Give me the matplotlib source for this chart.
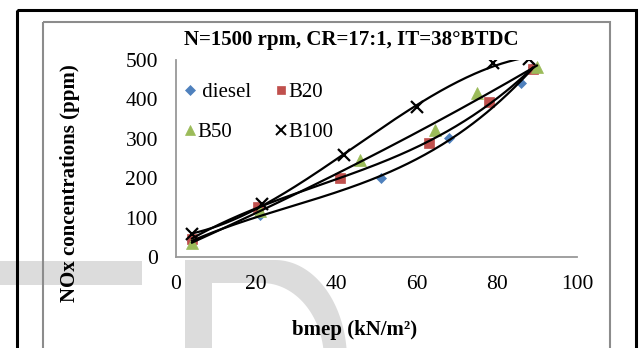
import numpy as np
import matplotlib
matplotlib.use("Agg")
import matplotlib.pyplot as plt
from matplotlib.lines import Line2D
from matplotlib.patches import Rectangle, Polygon

plt.rcParams['font.family'] = ['Liberation Serif', 'DejaVu Serif']

# data (bmep in kN/m2, NOx in ppm)
diesel_x = [4, 21, 51, 68, 86, 89]
diesel_y = [40, 107, 200, 302, 442, 482]
b20_x = [4, 20.5, 41, 63, 78, 89]
b20_y = [46, 128, 200, 290, 393, 478]
b50_x = [4, 21, 46, 64.5, 75, 90]
b50_y = [36, 117, 247, 322, 416, 482]
b100_x = [4, 21.5, 42, 60, 79, 88]
b100_y = [58, 135, 259, 381, 493, 502]

labels = [' diesel', 'B20', 'B50', 'B100']
colors = ['#4F81BD', '#C0504D', '#9BBB59', 'black']
markers = ['D', 's', '^', 'x']
msizes = [5.5, 7, 8, 8]

xticks = [0, 20, 40, 60, 80, 100]
yticks = [0, 100, 200, 300, 400, 500]

W, H = 641, 348

fig = plt.figure(figsize=(W / 100, H / 100), dpi=100)
fig.patch.set_facecolor('white')

# background layer in pixel coords: watermark + frames
bg = fig.add_axes([0, 0, 1, 1], zorder=0)
bg.set_xlim(0, W)
bg.set_ylim(H, 0)
bg.axis('off')
wm = '#dcdcdc'
bg.add_patch(Rectangle((0, 261), 142, 24, color=wm, lw=0))
# the "D"
t1 = np.linspace(np.pi / 2, -0.2, 60)
outer = [(185, 360), (185, 260)] + [(275 + 72 * np.cos(a), 360 - 100 * np.sin(a)) for a in t1]
bg.add_patch(Polygon(outer, closed=True, color=wm, lw=0))
inner = [(212, 360), (212, 283)] + [(262 + 62 * np.cos(a), 360 - 77 * np.sin(a)) for a in t1]
bg.add_patch(Polygon(inner, closed=True, color='white', lw=0))
bg.add_patch(Rectangle((17, 10), 619, 360, fill=False, ec='black', lw=2.2))
bg.add_patch(Rectangle((43, 22), 567, 360, fill=False, ec='#8c8c8c', lw=1.5))

ax = fig.add_axes([176 / W, (H - 257) / H, (577 - 176) / W, (257 - 60) / H], zorder=1)
ax.set_facecolor('none')

series = [(diesel_x, diesel_y), (b20_x, b20_y), (b50_x, b50_y), (b100_x, b100_y)]
for (xs, ys), c, m, s in zip(series, colors, markers, msizes):
    ax.plot(xs, ys, linestyle='none', marker=m, color=c, markersize=s,
            markeredgewidth=1.6 if m == 'x' else 0.5, zorder=2)
# polynomial trendlines (3rd order) in black
for xs, ys in series:
    coef = np.polyfit(xs, ys, 3)
    fx = np.linspace(min(xs), max(xs), 200)
    ax.plot(fx, np.polyval(coef, fx), color='black', lw=1.6, zorder=3)

ax.set_xlim(0, 100)
ax.set_ylim(0, 500)
ax.set_xticks(xticks)
ax.set_yticks(yticks)
ax.tick_params(length=0, labelsize=15.5, pad=13)
for side in ['top', 'right']:
    ax.spines[side].set_visible(False)
for side in ['left', 'bottom']:
    ax.spines[side].set_color('#999999')
    ax.spines[side].set_linewidth(1.3)

handles = [Line2D([], [], linestyle='none', marker=m, color=c, markersize=s * 0.9,
                  markeredgewidth=1.4 if m == 'x' else 0.5)
           for c, m, s in zip(colors, markers, msizes)]
order = [0, 2, 1, 3]  # legend fills by column; keep rows diesel/B20, B50/B100
ax.legend([handles[i] for i in order], [labels[i] for i in order], ncol=2,
          loc='upper left', bbox_to_anchor=(-0.017, 0.96),
          frameon=False, fontsize=15, handlelength=0.6, handletextpad=0.05,
          columnspacing=1.1, labelspacing=1.0, borderaxespad=0.3)

fig.text(351 / W, 1 - 40 / H, 'N=1500 rpm, CR=17:1, IT=38°BTDC', ha='center', va='center',
         fontsize=15, fontweight='bold')
fig.text(70 / W, 1 - 183 / H, 'NOx concentrations (ppm)', ha='center', va='center',
         rotation=90, fontsize=15, fontweight='bold')
fig.text(355 / W, 1 - 330 / H, 'bmep (kN/m²)', ha='center', va='center',
         fontsize=15, fontweight='bold')

fig.savefig('out.png', dpi=100)
